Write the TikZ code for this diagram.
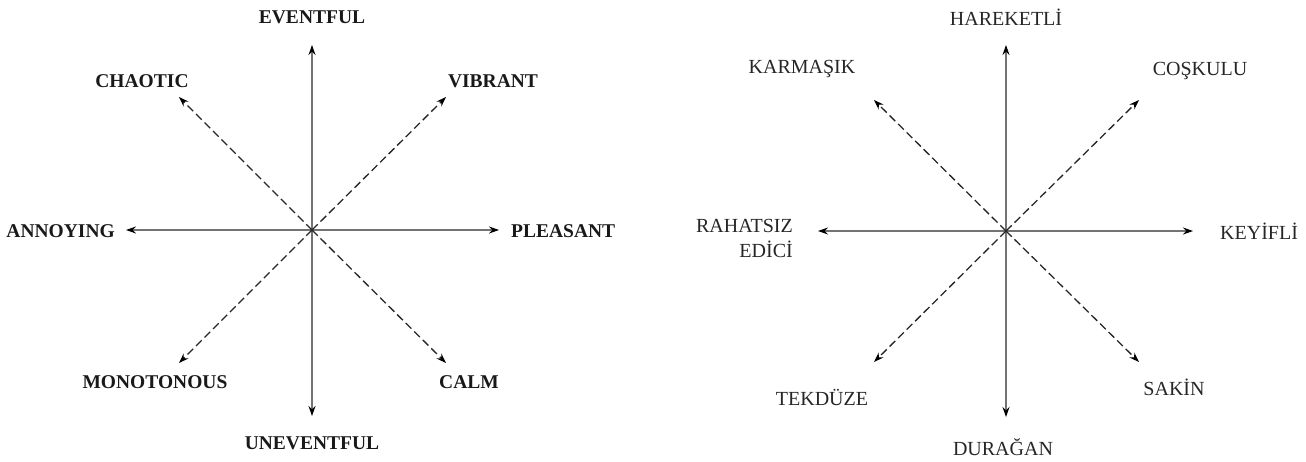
\documentclass[tikz,border=0pt]{standalone}
\usepackage{fontspec}
\setmainfont{Liberation Serif}
\usetikzlibrary{arrows.meta}
\tikzset{
  axis/.style={draw=black!55, line width=1.2pt, -{Stealth[length=10pt,width=7pt,color=black]}},
  diag/.style={draw=black!85, line width=1.3pt, dash pattern=on 8pt off 4pt, -{Stealth[length=10pt,width=7pt,color=black]}},
  lbl/.style={font=\fontsize{19.5}{22}\selectfont\bfseries, inner sep=0pt, text=black!90},
  tlbl/.style={font=\fontsize{20}{25}\selectfont, inner sep=0pt, text=black!85},
}
\begin{document}
\begin{tikzpicture}[x=1pt,y=-1pt]
\useasboundingbox (0,0) rectangle (1306,461);
% ---- left diagram ----
\coordinate (c1) at (312,230);
\coordinate (n1) at (312,45);
\coordinate (s1) at (312,416);
\coordinate (w1) at (126,230);
\coordinate (e1) at (499,230);
\coordinate (nw1) at (179,97);
\coordinate (ne1) at (446,97);
\coordinate (sw1) at (179,363);
\coordinate (se1) at (446,363);
\draw[axis] (c1) -- (n1);
\draw[axis] (c1) -- (s1);
\draw[axis] (c1) -- (w1);
\draw[axis] (c1) -- (e1);
\draw[diag] (c1) -- (nw1);
\draw[diag] (c1) -- (ne1);
\draw[diag] (c1) -- (sw1);
\draw[diag] (c1) -- (se1);
\node[lbl] (l1) at (312,17) {EVENTFUL};
\node[lbl] (l2) at (142,81) {CHAOTIC};
\node[lbl] (l3) at (493,81) {VIBRANT};
\node[lbl, anchor=east] (l4) at (115,231) {ANNOYING};
\node[lbl, anchor=west] (l5) at (511,231) {PLEASANT};
\node[lbl] (l6) at (155,382) {MONOTONOUS};
\node[lbl] (l7) at (469,382) {CALM};
\node[lbl] (l8) at (312,443) {UNEVENTFUL};
% ---- right diagram ----
\coordinate (c2) at (1006,231);
\coordinate (n2) at (1006,45);
\coordinate (s2) at (1006,417);
\coordinate (w2) at (818,231);
\coordinate (e2) at (1193,231);
\coordinate (nw2) at (874,100);
\coordinate (ne2) at (1139,100);
\coordinate (sw2) at (874,362);
\coordinate (se2) at (1139,362);
\draw[axis] (c2) -- (n2);
\draw[axis] (c2) -- (s2);
\draw[axis] (c2) -- (w2);
\draw[axis] (c2) -- (e2);
\draw[diag] (c2) -- (nw2);
\draw[diag] (c2) -- (ne2);
\draw[diag] (c2) -- (sw2);
\draw[diag] (c2) -- (se2);
\node[tlbl] (r1) at (1006,17) {HAREKETLİ};
\node[tlbl] (r2) at (802,69) {KARMAŞIK};
\node[tlbl] (r3) at (1200,71) {COŞKULU};
\node[tlbl, anchor=east, align=right] (r4) at (793,238) {RAHATSIZ\\EDİCİ};
\node[tlbl, anchor=west] (r5) at (1220,231) {KEYİFLİ};
\node[tlbl] (r6) at (822,397) {TEKDÜZE};
\node[tlbl] (r7) at (1174,387) {SAKİN};
\node[tlbl] (r8) at (1003,447) {DURAĞAN};
\end{tikzpicture}
\end{document}
